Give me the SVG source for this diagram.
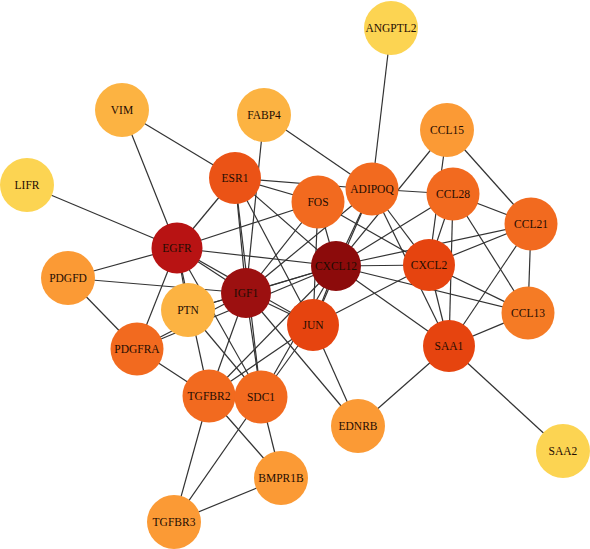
<svg xmlns="http://www.w3.org/2000/svg" width="590" height="549" viewBox="0 0 590 549">
<style>
.e line{stroke:#333;stroke-width:1.2}
text{font-family:"Liberation Serif","DejaVu Serif",serif;font-size:11.5px;fill:#1e0c02;text-anchor:middle;dominant-baseline:central}
.k1{fill:#8c0b0b}.k2{fill:#9c1010}.k3{fill:#b81313}.k4{fill:#e6440f}.k5{fill:#eb5316}.k6{fill:#f26a1f}.k7{fill:#f57b25}.k8{fill:#fb9a35}.k9{fill:#fcb342}.k10{fill:#fcd452}
</style>
<rect width="590" height="549" fill="#fff"/>
<g class="e" id="edges">
<line x1="391" y1="28" x2="372" y2="189"/>
<line x1="122" y1="110" x2="177" y2="248"/>
<line x1="122" y1="110" x2="235" y2="178"/>
<line x1="264" y1="115" x2="372" y2="189"/>
<line x1="264" y1="115" x2="246" y2="293"/>
<line x1="27" y1="185" x2="177" y2="248"/>
<line x1="68" y1="278" x2="177" y2="248"/>
<line x1="68" y1="278" x2="246" y2="293"/>
<line x1="68" y1="278" x2="137" y2="349"/>
<line x1="137" y1="349" x2="177" y2="248"/>
<line x1="137" y1="349" x2="246" y2="293"/>
<line x1="137" y1="349" x2="336" y2="266"/>
<line x1="137" y1="349" x2="209" y2="396"/>
<line x1="177" y1="248" x2="235" y2="178"/>
<line x1="177" y1="248" x2="318" y2="202"/>
<line x1="177" y1="248" x2="336" y2="266"/>
<line x1="177" y1="248" x2="246" y2="293"/>
<line x1="177" y1="248" x2="313" y2="325"/>
<line x1="177" y1="248" x2="188" y2="310"/>
<line x1="177" y1="248" x2="209" y2="396"/>
<line x1="177" y1="248" x2="261" y2="397"/>
<line x1="235" y1="178" x2="318" y2="202"/>
<line x1="235" y1="178" x2="372" y2="189"/>
<line x1="235" y1="178" x2="246" y2="293"/>
<line x1="235" y1="178" x2="336" y2="266"/>
<line x1="235" y1="178" x2="313" y2="325"/>
<line x1="235" y1="178" x2="261" y2="397"/>
<line x1="318" y1="202" x2="246" y2="293"/>
<line x1="318" y1="202" x2="336" y2="266"/>
<line x1="318" y1="202" x2="429" y2="265"/>
<line x1="318" y1="202" x2="313" y2="325"/>
<line x1="372" y1="189" x2="453" y2="194"/>
<line x1="372" y1="189" x2="429" y2="265"/>
<line x1="372" y1="189" x2="449" y2="346"/>
<line x1="372" y1="189" x2="336" y2="266"/>
<line x1="372" y1="189" x2="313" y2="325"/>
<line x1="372" y1="189" x2="246" y2="293"/>
<line x1="447" y1="130" x2="336" y2="266"/>
<line x1="447" y1="130" x2="429" y2="265"/>
<line x1="447" y1="130" x2="531" y2="224"/>
<line x1="453" y1="194" x2="531" y2="224"/>
<line x1="453" y1="194" x2="528" y2="313"/>
<line x1="453" y1="194" x2="449" y2="346"/>
<line x1="453" y1="194" x2="336" y2="266"/>
<line x1="453" y1="194" x2="429" y2="265"/>
<line x1="531" y1="224" x2="528" y2="313"/>
<line x1="531" y1="224" x2="449" y2="346"/>
<line x1="531" y1="224" x2="336" y2="266"/>
<line x1="531" y1="224" x2="429" y2="265"/>
<line x1="528" y1="313" x2="449" y2="346"/>
<line x1="528" y1="313" x2="429" y2="265"/>
<line x1="528" y1="313" x2="336" y2="266"/>
<line x1="429" y1="265" x2="336" y2="266"/>
<line x1="429" y1="265" x2="449" y2="346"/>
<line x1="429" y1="265" x2="313" y2="325"/>
<line x1="336" y1="266" x2="449" y2="346"/>
<line x1="336" y1="266" x2="313" y2="325"/>
<line x1="336" y1="266" x2="246" y2="293"/>
<line x1="336" y1="266" x2="188" y2="310"/>
<line x1="336" y1="266" x2="261" y2="397"/>
<line x1="336" y1="266" x2="209" y2="396"/>
<line x1="246" y1="293" x2="188" y2="310"/>
<line x1="246" y1="293" x2="313" y2="325"/>
<line x1="246" y1="293" x2="209" y2="396"/>
<line x1="246" y1="293" x2="261" y2="397"/>
<line x1="246" y1="293" x2="358" y2="426"/>
<line x1="313" y1="325" x2="358" y2="426"/>
<line x1="313" y1="325" x2="209" y2="396"/>
<line x1="313" y1="325" x2="261" y2="397"/>
<line x1="188" y1="310" x2="261" y2="397"/>
<line x1="449" y1="346" x2="358" y2="426"/>
<line x1="449" y1="346" x2="563" y2="451"/>
<line x1="209" y1="396" x2="281" y2="478"/>
<line x1="209" y1="396" x2="174" y2="522"/>
<line x1="261" y1="397" x2="281" y2="478"/>
<line x1="261" y1="397" x2="174" y2="522"/>
<line x1="281" y1="478" x2="174" y2="522"/>
</g>
<g id="ANGPTL2"><circle class="k10" cx="391" cy="28" r="27"/><text x="391" y="28">ANGPTL2</text></g>
<g id="VIM"><circle class="k9" cx="122" cy="110" r="27"/><text x="122" y="110">VIM</text></g>
<g id="FABP4"><circle class="k9" cx="264" cy="115" r="27"/><text x="264" y="115">FABP4</text></g>
<g id="CCL15"><circle class="k8" cx="447" cy="130" r="27"/><text x="447" y="130">CCL15</text></g>
<g id="LIFR"><circle class="k10" cx="27" cy="185" r="27"/><text x="27" y="185">LIFR</text></g>
<g id="ESR1"><circle class="k5" cx="235" cy="178" r="26"/><text x="235" y="178">ESR1</text></g>
<g id="FOS"><circle class="k6" cx="318" cy="202" r="26.5"/><text x="318" y="202">FOS</text></g>
<g id="ADIPOQ"><circle class="k6" cx="372" cy="189" r="26.5"/><text x="372" y="189">ADIPOQ</text></g>
<g id="CCL28"><circle class="k6" cx="453" cy="194" r="26.5"/><text x="453" y="194">CCL28</text></g>
<g id="CCL21"><circle class="k6" cx="531" cy="224" r="26.5"/><text x="531" y="224">CCL21</text></g>
<g id="EGFR"><circle class="k3" cx="177" cy="248" r="25.5"/><text x="177" y="248">EGFR</text></g>
<g id="CXCL12"><circle class="k1" cx="336" cy="266" r="25"/><text x="336" y="266">CXCL12</text></g>
<g id="CXCL2"><circle class="k4" cx="429" cy="265" r="26"/><text x="429" y="265">CXCL2</text></g>
<g id="PDGFD"><circle class="k8" cx="68" cy="278" r="27"/><text x="68" y="278">PDGFD</text></g>
<g id="IGF1"><circle class="k2" cx="246" cy="293" r="25"/><text x="246" y="293">IGF1</text></g>
<g id="PTN"><circle class="k9" cx="188" cy="310" r="27"/><text x="188" y="310">PTN</text></g>
<g id="JUN"><circle class="k4" cx="313" cy="325" r="26"/><text x="313" y="325">JUN</text></g>
<g id="CCL13"><circle class="k7" cx="528" cy="313" r="26.5"/><text x="528" y="313">CCL13</text></g>
<g id="PDGFRA"><circle class="k6" cx="137" cy="349" r="26.5"/><text x="137" y="349">PDGFRA</text></g>
<g id="SAA1"><circle class="k4" cx="449" cy="346" r="26"/><text x="449" y="346">SAA1</text></g>
<g id="TGFBR2"><circle class="k6" cx="209" cy="396" r="26.5"/><text x="209" y="396">TGFBR2</text></g>
<g id="SDC1"><circle class="k6" cx="261" cy="397" r="26.5"/><text x="261" y="397">SDC1</text></g>
<g id="EDNRB"><circle class="k8" cx="358" cy="426" r="27"/><text x="358" y="426">EDNRB</text></g>
<g id="BMPR1B"><circle class="k8" cx="281" cy="478" r="27"/><text x="281" y="478">BMPR1B</text></g>
<g id="TGFBR3"><circle class="k8" cx="174" cy="522" r="27"/><text x="174" y="522">TGFBR3</text></g>
<g id="SAA2"><circle class="k10" cx="563" cy="451" r="27"/><text x="563" y="451">SAA2</text></g>
</svg>
